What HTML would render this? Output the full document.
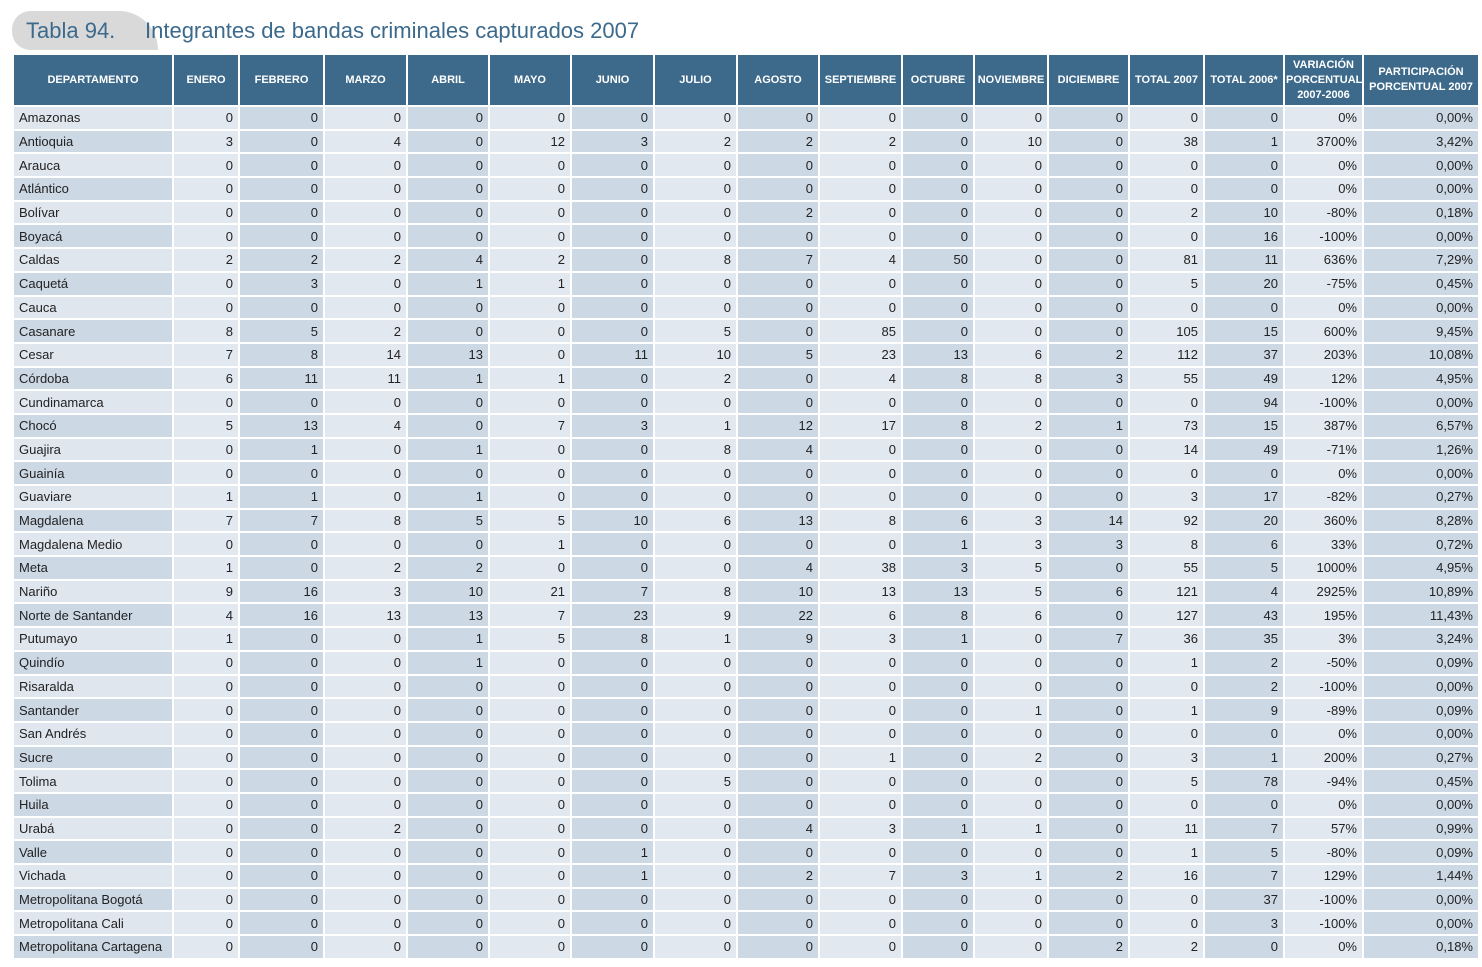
<!DOCTYPE html>
<html><head><meta charset="utf-8"><style>
body{margin:0;width:1482px;height:967px;background:#fff;font-family:"Liberation Sans",sans-serif;position:relative;overflow:hidden}
.pill{position:absolute;left:12px;top:11px;width:146px;height:39px;background:#d9d9d9;border-radius:19px 40px 0 19px}
.t1{position:absolute;left:26px;top:18px;font-size:22px;color:#3c6a8c}
.t2{position:absolute;left:145px;top:18px;font-size:22px;color:#3c6a8c}
table{position:absolute;left:12px;top:53px;border-collapse:collapse;table-layout:fixed;width:1466px}
td,th{border:2px solid #fff;padding:0 4px;font-size:13px;color:#222;white-space:nowrap;overflow:hidden}
th{background:#3d6a8b;color:#fff;font-size:11px;font-weight:bold;height:50px;text-align:center;line-height:15px;padding:0 1px}
td{height:21.7px;text-align:right;background:#e2e8f0;padding:0 5px}
td:nth-child(odd){background:#cdd8e5}
td:first-child{text-align:left;background:#dfe6ee}
tr:nth-child(odd) td:first-child{background:#cdd8e5}
</style></head><body>
<div class="pill"></div><div class="t1">Tabla 94.</div><div class="t2">Integrantes de bandas criminales capturados 2007</div>
<table>
<colgroup><col style="width:160px"><col style="width:66px"><col style="width:85px"><col style="width:83px"><col style="width:82px"><col style="width:82px"><col style="width:83px"><col style="width:83px"><col style="width:82px"><col style="width:83px"><col style="width:72px"><col style="width:74px"><col style="width:81px"><col style="width:75px"><col style="width:80px"><col style="width:79px"><col style="width:116px"></colgroup>
<tr><th>DEPARTAMENTO</th><th>ENERO</th><th>FEBRERO</th><th>MARZO</th><th>ABRIL</th><th>MAYO</th><th>JUNIO</th><th>JULIO</th><th>AGOSTO</th><th>SEPTIEMBRE</th><th>OCTUBRE</th><th>NOVIEMBRE</th><th>DICIEMBRE</th><th>TOTAL 2007</th><th>TOTAL 2006*</th><th>VARIACIÓN<br>PORCENTUAL<br>2007-2006</th><th>PARTICIPACIÓN<br>PORCENTUAL 2007</th></tr>
<tr><td>Amazonas</td><td>0</td><td>0</td><td>0</td><td>0</td><td>0</td><td>0</td><td>0</td><td>0</td><td>0</td><td>0</td><td>0</td><td>0</td><td>0</td><td>0</td><td>0%</td><td>0,00%</td></tr>
<tr><td>Antioquia</td><td>3</td><td>0</td><td>4</td><td>0</td><td>12</td><td>3</td><td>2</td><td>2</td><td>2</td><td>0</td><td>10</td><td>0</td><td>38</td><td>1</td><td>3700%</td><td>3,42%</td></tr>
<tr><td>Arauca</td><td>0</td><td>0</td><td>0</td><td>0</td><td>0</td><td>0</td><td>0</td><td>0</td><td>0</td><td>0</td><td>0</td><td>0</td><td>0</td><td>0</td><td>0%</td><td>0,00%</td></tr>
<tr><td>Atlántico</td><td>0</td><td>0</td><td>0</td><td>0</td><td>0</td><td>0</td><td>0</td><td>0</td><td>0</td><td>0</td><td>0</td><td>0</td><td>0</td><td>0</td><td>0%</td><td>0,00%</td></tr>
<tr><td>Bolívar</td><td>0</td><td>0</td><td>0</td><td>0</td><td>0</td><td>0</td><td>0</td><td>2</td><td>0</td><td>0</td><td>0</td><td>0</td><td>2</td><td>10</td><td>-80%</td><td>0,18%</td></tr>
<tr><td>Boyacá</td><td>0</td><td>0</td><td>0</td><td>0</td><td>0</td><td>0</td><td>0</td><td>0</td><td>0</td><td>0</td><td>0</td><td>0</td><td>0</td><td>16</td><td>-100%</td><td>0,00%</td></tr>
<tr><td>Caldas</td><td>2</td><td>2</td><td>2</td><td>4</td><td>2</td><td>0</td><td>8</td><td>7</td><td>4</td><td>50</td><td>0</td><td>0</td><td>81</td><td>11</td><td>636%</td><td>7,29%</td></tr>
<tr><td>Caquetá</td><td>0</td><td>3</td><td>0</td><td>1</td><td>1</td><td>0</td><td>0</td><td>0</td><td>0</td><td>0</td><td>0</td><td>0</td><td>5</td><td>20</td><td>-75%</td><td>0,45%</td></tr>
<tr><td>Cauca</td><td>0</td><td>0</td><td>0</td><td>0</td><td>0</td><td>0</td><td>0</td><td>0</td><td>0</td><td>0</td><td>0</td><td>0</td><td>0</td><td>0</td><td>0%</td><td>0,00%</td></tr>
<tr><td>Casanare</td><td>8</td><td>5</td><td>2</td><td>0</td><td>0</td><td>0</td><td>5</td><td>0</td><td>85</td><td>0</td><td>0</td><td>0</td><td>105</td><td>15</td><td>600%</td><td>9,45%</td></tr>
<tr><td>Cesar</td><td>7</td><td>8</td><td>14</td><td>13</td><td>0</td><td>11</td><td>10</td><td>5</td><td>23</td><td>13</td><td>6</td><td>2</td><td>112</td><td>37</td><td>203%</td><td>10,08%</td></tr>
<tr><td>Córdoba</td><td>6</td><td>11</td><td>11</td><td>1</td><td>1</td><td>0</td><td>2</td><td>0</td><td>4</td><td>8</td><td>8</td><td>3</td><td>55</td><td>49</td><td>12%</td><td>4,95%</td></tr>
<tr><td>Cundinamarca</td><td>0</td><td>0</td><td>0</td><td>0</td><td>0</td><td>0</td><td>0</td><td>0</td><td>0</td><td>0</td><td>0</td><td>0</td><td>0</td><td>94</td><td>-100%</td><td>0,00%</td></tr>
<tr><td>Chocó</td><td>5</td><td>13</td><td>4</td><td>0</td><td>7</td><td>3</td><td>1</td><td>12</td><td>17</td><td>8</td><td>2</td><td>1</td><td>73</td><td>15</td><td>387%</td><td>6,57%</td></tr>
<tr><td>Guajira</td><td>0</td><td>1</td><td>0</td><td>1</td><td>0</td><td>0</td><td>8</td><td>4</td><td>0</td><td>0</td><td>0</td><td>0</td><td>14</td><td>49</td><td>-71%</td><td>1,26%</td></tr>
<tr><td>Guainía</td><td>0</td><td>0</td><td>0</td><td>0</td><td>0</td><td>0</td><td>0</td><td>0</td><td>0</td><td>0</td><td>0</td><td>0</td><td>0</td><td>0</td><td>0%</td><td>0,00%</td></tr>
<tr><td>Guaviare</td><td>1</td><td>1</td><td>0</td><td>1</td><td>0</td><td>0</td><td>0</td><td>0</td><td>0</td><td>0</td><td>0</td><td>0</td><td>3</td><td>17</td><td>-82%</td><td>0,27%</td></tr>
<tr><td>Magdalena</td><td>7</td><td>7</td><td>8</td><td>5</td><td>5</td><td>10</td><td>6</td><td>13</td><td>8</td><td>6</td><td>3</td><td>14</td><td>92</td><td>20</td><td>360%</td><td>8,28%</td></tr>
<tr><td>Magdalena Medio</td><td>0</td><td>0</td><td>0</td><td>0</td><td>1</td><td>0</td><td>0</td><td>0</td><td>0</td><td>1</td><td>3</td><td>3</td><td>8</td><td>6</td><td>33%</td><td>0,72%</td></tr>
<tr><td>Meta</td><td>1</td><td>0</td><td>2</td><td>2</td><td>0</td><td>0</td><td>0</td><td>4</td><td>38</td><td>3</td><td>5</td><td>0</td><td>55</td><td>5</td><td>1000%</td><td>4,95%</td></tr>
<tr><td>Nariño</td><td>9</td><td>16</td><td>3</td><td>10</td><td>21</td><td>7</td><td>8</td><td>10</td><td>13</td><td>13</td><td>5</td><td>6</td><td>121</td><td>4</td><td>2925%</td><td>10,89%</td></tr>
<tr><td>Norte de Santander</td><td>4</td><td>16</td><td>13</td><td>13</td><td>7</td><td>23</td><td>9</td><td>22</td><td>6</td><td>8</td><td>6</td><td>0</td><td>127</td><td>43</td><td>195%</td><td>11,43%</td></tr>
<tr><td>Putumayo</td><td>1</td><td>0</td><td>0</td><td>1</td><td>5</td><td>8</td><td>1</td><td>9</td><td>3</td><td>1</td><td>0</td><td>7</td><td>36</td><td>35</td><td>3%</td><td>3,24%</td></tr>
<tr><td>Quindío</td><td>0</td><td>0</td><td>0</td><td>1</td><td>0</td><td>0</td><td>0</td><td>0</td><td>0</td><td>0</td><td>0</td><td>0</td><td>1</td><td>2</td><td>-50%</td><td>0,09%</td></tr>
<tr><td>Risaralda</td><td>0</td><td>0</td><td>0</td><td>0</td><td>0</td><td>0</td><td>0</td><td>0</td><td>0</td><td>0</td><td>0</td><td>0</td><td>0</td><td>2</td><td>-100%</td><td>0,00%</td></tr>
<tr><td>Santander</td><td>0</td><td>0</td><td>0</td><td>0</td><td>0</td><td>0</td><td>0</td><td>0</td><td>0</td><td>0</td><td>1</td><td>0</td><td>1</td><td>9</td><td>-89%</td><td>0,09%</td></tr>
<tr><td>San Andrés</td><td>0</td><td>0</td><td>0</td><td>0</td><td>0</td><td>0</td><td>0</td><td>0</td><td>0</td><td>0</td><td>0</td><td>0</td><td>0</td><td>0</td><td>0%</td><td>0,00%</td></tr>
<tr><td>Sucre</td><td>0</td><td>0</td><td>0</td><td>0</td><td>0</td><td>0</td><td>0</td><td>0</td><td>1</td><td>0</td><td>2</td><td>0</td><td>3</td><td>1</td><td>200%</td><td>0,27%</td></tr>
<tr><td>Tolima</td><td>0</td><td>0</td><td>0</td><td>0</td><td>0</td><td>0</td><td>5</td><td>0</td><td>0</td><td>0</td><td>0</td><td>0</td><td>5</td><td>78</td><td>-94%</td><td>0,45%</td></tr>
<tr><td>Huila</td><td>0</td><td>0</td><td>0</td><td>0</td><td>0</td><td>0</td><td>0</td><td>0</td><td>0</td><td>0</td><td>0</td><td>0</td><td>0</td><td>0</td><td>0%</td><td>0,00%</td></tr>
<tr><td>Urabá</td><td>0</td><td>0</td><td>2</td><td>0</td><td>0</td><td>0</td><td>0</td><td>4</td><td>3</td><td>1</td><td>1</td><td>0</td><td>11</td><td>7</td><td>57%</td><td>0,99%</td></tr>
<tr><td>Valle</td><td>0</td><td>0</td><td>0</td><td>0</td><td>0</td><td>1</td><td>0</td><td>0</td><td>0</td><td>0</td><td>0</td><td>0</td><td>1</td><td>5</td><td>-80%</td><td>0,09%</td></tr>
<tr><td>Vichada</td><td>0</td><td>0</td><td>0</td><td>0</td><td>0</td><td>1</td><td>0</td><td>2</td><td>7</td><td>3</td><td>1</td><td>2</td><td>16</td><td>7</td><td>129%</td><td>1,44%</td></tr>
<tr><td>Metropolitana Bogotá</td><td>0</td><td>0</td><td>0</td><td>0</td><td>0</td><td>0</td><td>0</td><td>0</td><td>0</td><td>0</td><td>0</td><td>0</td><td>0</td><td>37</td><td>-100%</td><td>0,00%</td></tr>
<tr><td>Metropolitana Cali</td><td>0</td><td>0</td><td>0</td><td>0</td><td>0</td><td>0</td><td>0</td><td>0</td><td>0</td><td>0</td><td>0</td><td>0</td><td>0</td><td>3</td><td>-100%</td><td>0,00%</td></tr>
<tr><td>Metropolitana Cartagena</td><td>0</td><td>0</td><td>0</td><td>0</td><td>0</td><td>0</td><td>0</td><td>0</td><td>0</td><td>0</td><td>0</td><td>2</td><td>2</td><td>0</td><td>0%</td><td>0,18%</td></tr>
</table>
</body></html>
